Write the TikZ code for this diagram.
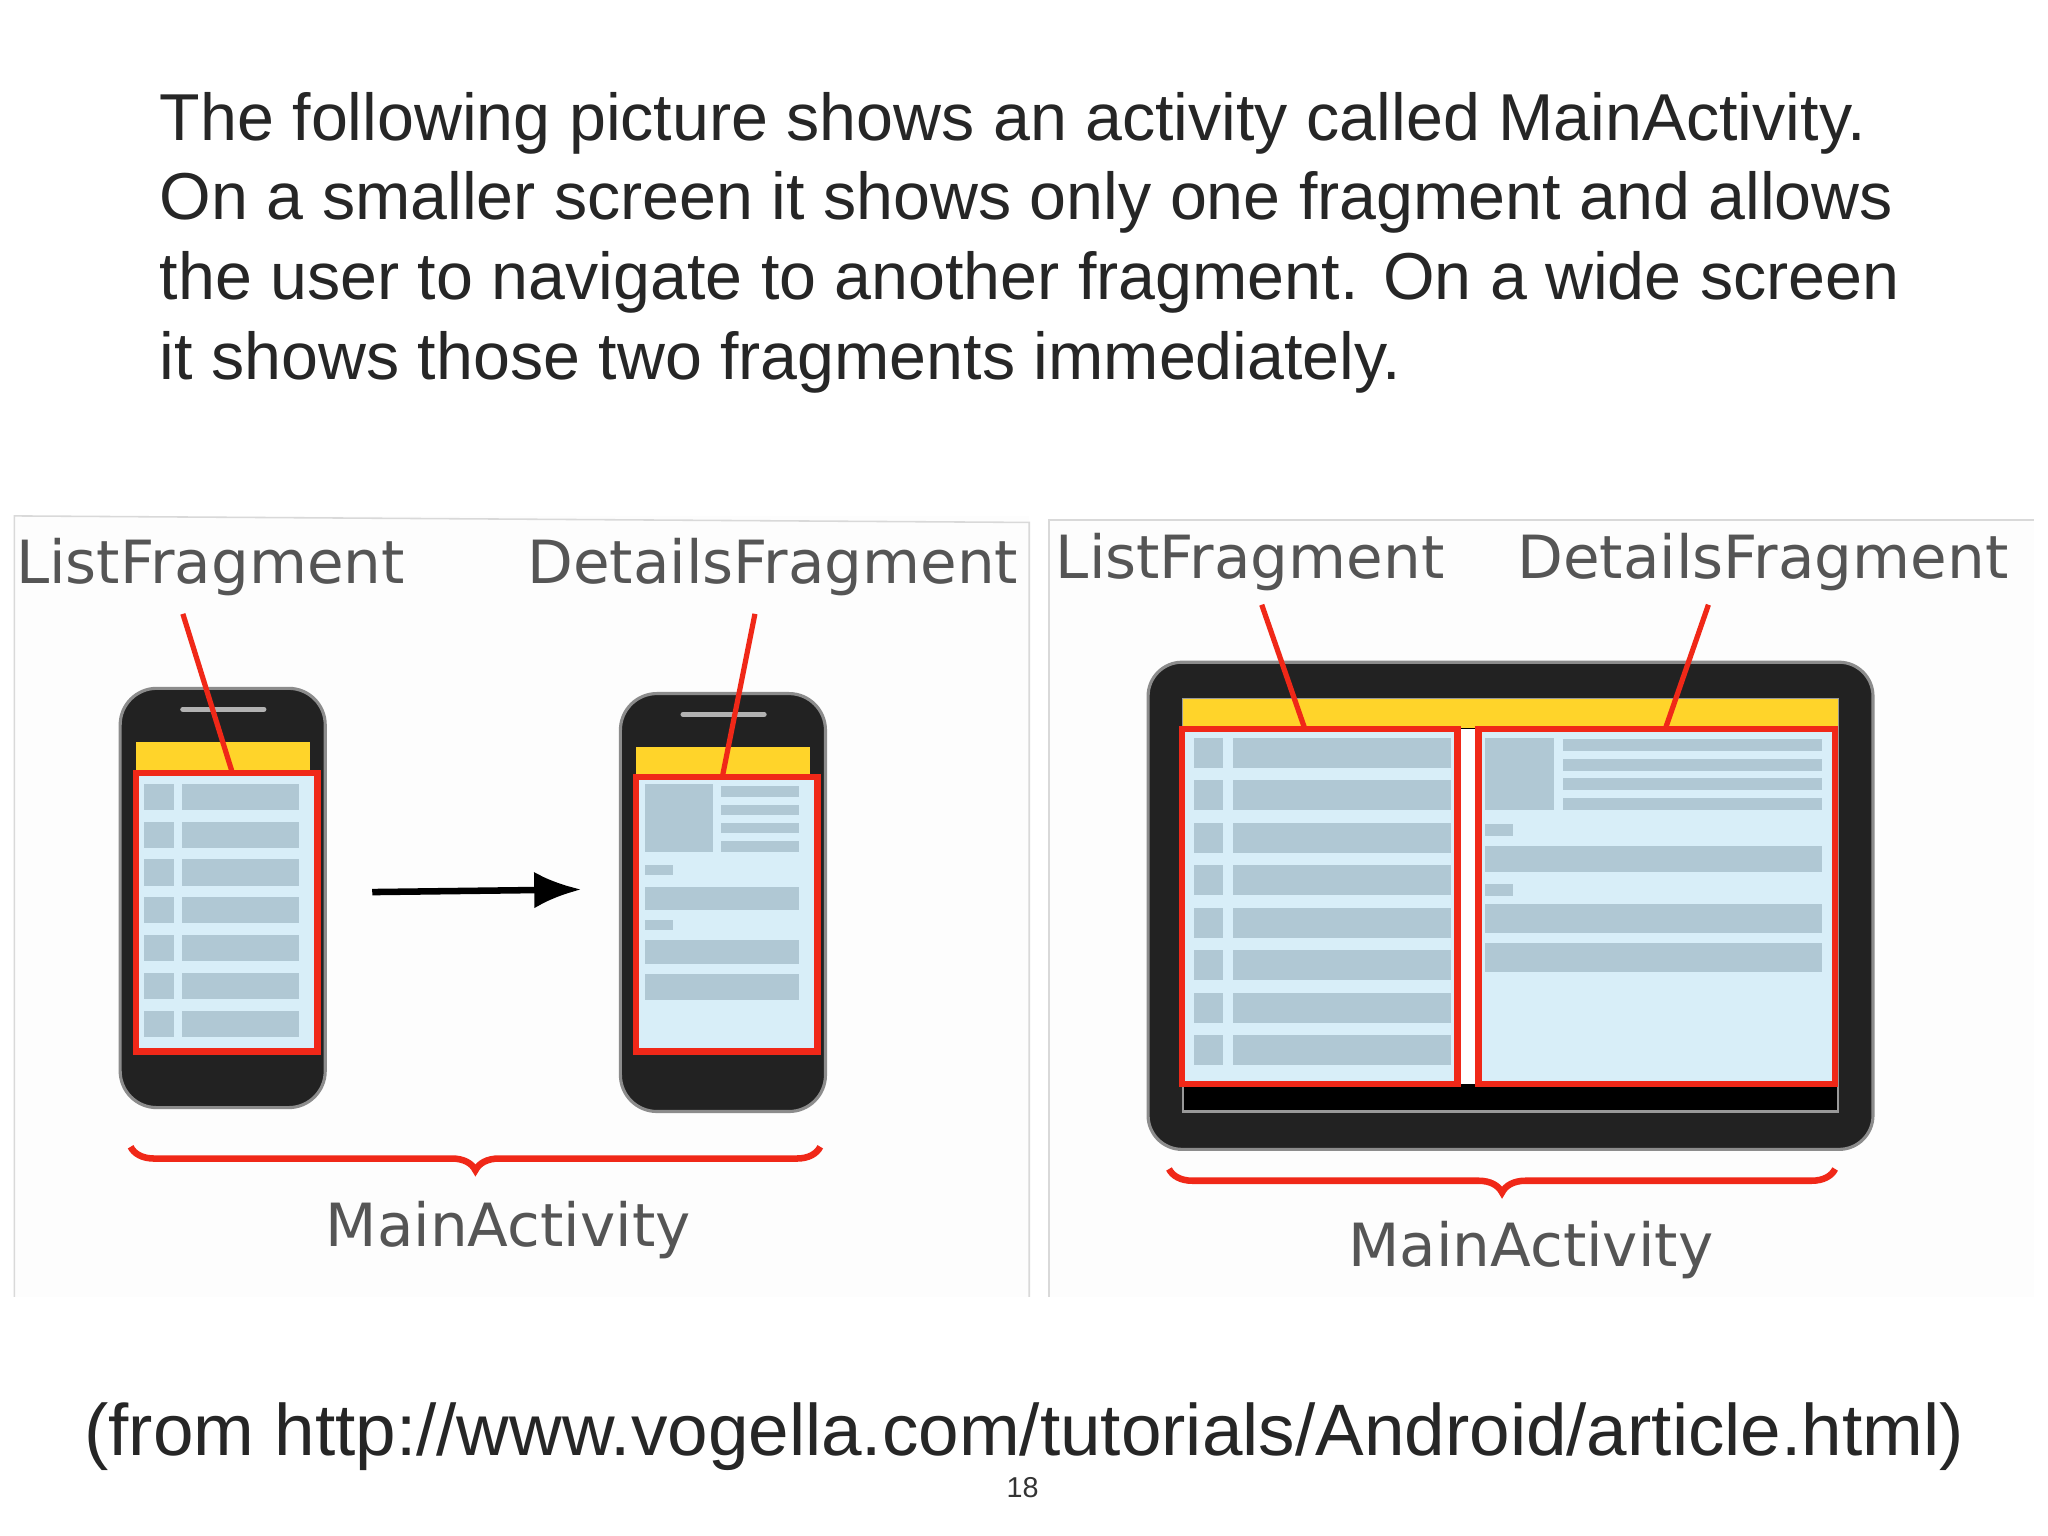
\documentclass[tikz,border=0pt]{standalone}
\usepackage{fontspec}
\setmainfont{Liberation Sans}
\newfontfamily\dejavu{DejaVu Sans}
\usetikzlibrary{decorations.pathreplacing,arrows.meta}
\definecolor{bgc}{HTML}{FDFDFD}
\definecolor{bodyc}{HTML}{222222}
\definecolor{ylw}{HTML}{FFD42A}
\definecolor{rowc}{HTML}{B0C8D4}
\definecolor{scr}{HTML}{D8EEF8}
\definecolor{redc}{HTML}{F02818}
\definecolor{lblc}{HTML}{555555}
\tikzset{
  lbl/.style={font=\dejavu\fontsize{22.8}{26}\selectfont, text=lblc, inner sep=0},
  redline/.style={draw=redc, line width=2pt},
  frame/.style={draw=redc, line width=2.5pt},
  row/.style={fill=rowc, draw=none},
  brc/.style={draw=redc, line width=2.5pt, decorate, decoration={brace,mirror,amplitude=9pt}},
  panel/.style={draw=black!15, line width=0.6pt}
}
\begin{document}
\begin{tikzpicture}[x=0.5pt,y=-0.5pt]
\fill[white] (0,0) rectangle (1568,1176);
\useasboundingbox (0,0) rectangle (1568,1176);
% text
\node[anchor=north west, inner sep=0, align=left, font=\fontsize{25.4}{30.6}\selectfont, text=black!85] (txt) at (122,70)
{The following picture shows an activity called MainActivity.\\
On a smaller screen it shows only one fragment and allows\\
the user to navigate to another fragment. On a wide screen\\
it shows those two fragments immediately.};
% panels
\fill[bgc] (11,395) rectangle (788,993);
\fill[bgc] (803,398) rectangle (1557,993);
\draw[panel] (11,993) -- (11,395) -- (788,400) -- (788,993);
\draw[panel] (803,993) -- (803,398) -- (1557,398);
% labels
\node[lbl, anchor=west] (lf1) at (12,434) {ListFragment};
\node[lbl, anchor=east] (df1) at (780,434) {DetailsFragment};
\node[lbl, anchor=west] (lf2) at (808,430) {ListFragment};
\node[lbl, anchor=east] (df2) at (1538,430) {DetailsFragment};
% phone 1
\draw[fill=bodyc, draw=black!45, line width=1.2pt, rounded corners=14pt] (92,527) rectangle (249,848);
\draw[white!70!black, line width=2pt, line cap=round] (140,543) -- (202,543);
\fill[ylw] (104,568) rectangle (237,592);
\fill[scr] (104,592) rectangle (243,805);
\foreach \i in {0,...,6}{
  \fill[row] (110,{600+29*\i}) rectangle (133,{620+29*\i});
  \fill[row] (139,{600+29*\i}) rectangle (229,{620+29*\i});
}
\node[frame, minimum width=69.5pt, minimum height=106.5pt, inner sep=0] (f1) at (173.5,698.5) {};
% phone 2
\draw[fill=bodyc, draw=black!45, line width=1.2pt, rounded corners=14pt] (475,531) rectangle (632,851);
\draw[white!70!black, line width=2pt, line cap=round] (523,547) -- (585,547);
\fill[ylw] (487,572) rectangle (620,595);
\fill[scr] (487,595) rectangle (626,805);
\fill[row] (494,600) rectangle (546,652);
\foreach \y in {602,616,630,644} \fill[row] (552,\y) rectangle (612,\y+8);
\fill[row] (494,662) rectangle (515,670);
\fill[row] (494,679) rectangle (612,697);
\fill[row] (494,704) rectangle (515,712);
\fill[row] (494,720) rectangle (612,738);
\fill[row] (494,746) rectangle (612,766);
\node[frame, minimum width=69.5pt, minimum height=105pt, inner sep=0] (f2) at (556.5,700) {};
% arrow
\coordinate (a1) at (285,683); \coordinate (a2) at (445,681);
\draw[line width=2.5pt, -{Latex[length=18pt,width=14pt]}] (a1) -- (a2);
% pointer lines
\draw[redline] (140,470) -- (178,592);
\draw[redline] (578,470) -- (553,595);
% tablet
\draw[fill=bodyc, draw=black!45, line width=1.2pt, rounded corners=13pt] (879,507) rectangle (1434,880);
\fill[black] (906,535) rectangle (1407,851);
\draw[white!60!black, line width=0.8pt] (906,535) rectangle (1407,851);
\fill[ylw] (906,535) rectangle (1407,557);
\fill[scr] (905,558) rectangle (1116,830);
\fill[scr] (1132,558) rectangle (1405,830);
\fill[white] (1116,558) rectangle (1132,830);
\foreach \i in {0,...,7}{
  \fill[row] (914,{565+32.5*\i}) rectangle (936,{588+32.5*\i});
  \fill[row] (944,{565+32.5*\i}) rectangle (1111,{588+32.5*\i});
}
\fill[row] (1137,565) rectangle (1190,620);
\foreach \y in {566,581,596,611} \fill[row] (1197,\y) rectangle (1395,\y+9);
\fill[row] (1137,631) rectangle (1158,640);
\fill[row] (1137,648) rectangle (1395,668);
\fill[row] (1137,677) rectangle (1158,686);
\fill[row] (1137,692) rectangle (1395,714);
\fill[row] (1137,722) rectangle (1395,744);
\node[frame, minimum width=105.5pt, minimum height=136pt, inner sep=0] (f3) at (1010.5,694) {};
\node[frame, minimum width=136.5pt, minimum height=136pt, inner sep=0] (f4) at (1268.5,694) {};
\draw[redline] (966,463) -- (999,558);
\draw[redline] (1308,463) -- (1275,558);
% braces
\coordinate (b1) at (100,878); \coordinate (b2) at (628,878);
\coordinate (b3) at (895,895); \coordinate (b4) at (1405,895);
\draw[brc] (b1) -- (b2);
\draw[brc] (b3) -- (b4);
\node[lbl] (ma1) at (389,942) {MainActivity};
\node[lbl] (ma2) at (1172,957) {MainActivity};
% footer
\node[font=\fontsize{27.9}{32}\selectfont, text=black!85, inner sep=0] (src) at (784,1100) {(from http://www.vogella.com/tutorials/Android/article.html)};
\node[font=\fontsize{11}{13}\selectfont, text=black!80, inner sep=0] (pg) at (783,1139) {18};
\end{tikzpicture}
\end{document}
